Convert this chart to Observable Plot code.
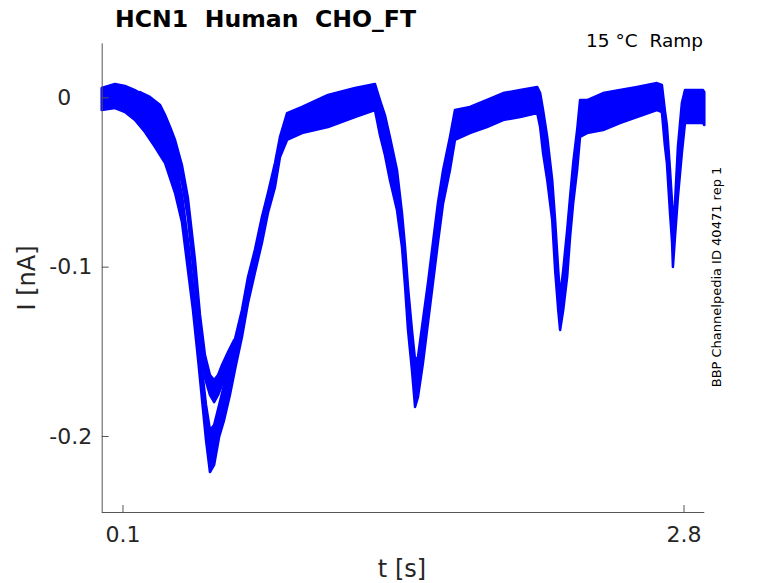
<!DOCTYPE html>
<html><head><meta charset="utf-8">
<script src="https://cdn.jsdelivr.net/npm/d3@7"></script>
<script src="https://cdn.jsdelivr.net/npm/@observablehq/plot@0.6"></script>
<style>
body{margin:0;background:#fff;}
#chart svg{font-family:"DejaVu Sans",sans-serif;}
</style>
</head><body><div id="chart"></div>
<script>
// Main band (overlapping sweeps): time [s], upper and lower envelope [nA]
const tA = [0, 0.064, 0.112, 0.160, 0.208, 0.256, 0.305, 0.353, 0.386, 0.415, 0.439, 0.464, 0.483, 0.502, 0.521, 0.541, 0.565, 0.589, 0.617, 0.646, 0.675, 0.704, 0.737, 0.771, 0.800, 0.834, 0.858, 0.892, 0.964, 1.089, 1.219, 1.315, 1.339, 1.363, 1.387, 1.421, 1.445, 1.460, 1.474, 1.493, 1.508, 1.522, 1.546, 1.570, 1.594, 1.618, 1.643, 1.676, 1.700, 1.772, 1.854, 1.932, 2.014, 2.096, 2.110, 2.124, 2.144, 2.168, 2.182, 2.197, 2.206, 2.221, 2.240, 2.254, 2.269, 2.288, 2.302, 2.336, 2.413, 2.494, 2.576, 2.672, 2.696, 2.710, 2.720, 2.735, 2.745, 2.749, 2.759, 2.773, 2.792, 2.807, 2.894, 2.900];
const hiA = [0.0055, 0.0079, 0.0067, 0.0043, 0.0008, -0.0045, -0.0181, -0.0370, -0.0577, -0.0843, -0.1108, -0.1404, -0.1610, -0.1817, -0.1965, -0.1935, -0.1817, -0.1699, -0.1551, -0.1404, -0.1256, -0.1061, -0.0902, -0.0707, -0.0565, -0.0388, -0.0234, -0.0093, -0.0057, 0.0014, 0.0055, 0.0079, -0.0016, -0.0105, -0.0234, -0.0429, -0.0683, -0.0884, -0.1120, -0.1374, -0.1551, -0.1534, -0.1315, -0.1097, -0.0860, -0.0625, -0.0429, -0.0234, -0.0075, -0.0057, -0.0016, 0.0025, 0.0043, 0.0061, 0.0025, -0.0075, -0.0234, -0.0488, -0.0725, -0.1020, -0.1179, -0.1020, -0.0784, -0.0589, -0.0388, -0.0193, -0.0016, -0.0016, 0.0025, 0.0043, 0.0061, 0.0084, 0.0073, -0.0075, -0.0164, -0.0429, -0.0625, -0.0784, -0.0625, -0.0293, -0.0034, 0.0043, 0.0043, 0.0031];
const loA = [-0.0075, -0.0063, -0.0087, -0.0134, -0.0205, -0.0293, -0.0388, -0.0565, -0.0736, -0.1020, -0.1256, -0.1551, -0.1788, -0.2024, -0.2213, -0.2171, -0.2006, -0.1906, -0.1758, -0.1581, -0.1416, -0.1215, -0.1037, -0.0860, -0.0683, -0.0530, -0.0353, -0.0252, -0.0211, -0.0176, -0.0116, -0.0075, -0.0222, -0.0341, -0.0488, -0.0666, -0.0884, -0.1120, -0.1374, -0.1610, -0.1829, -0.1770, -0.1569, -0.1333, -0.1097, -0.0860, -0.0625, -0.0429, -0.0252, -0.0211, -0.0176, -0.0134, -0.0116, -0.0093, -0.0176, -0.0329, -0.0488, -0.0725, -0.1020, -0.1256, -0.1374, -0.1256, -0.1061, -0.0825, -0.0625, -0.0429, -0.0234, -0.0211, -0.0193, -0.0152, -0.0116, -0.0075, -0.0087, -0.0282, -0.0388, -0.0683, -0.0860, -0.1002, -0.0825, -0.0589, -0.0329, -0.0152, -0.0152, -0.0164];

// Late sweep that separates during the first dip
const tB = [0.184, 0.232, 0.281, 0.305, 0.329, 0.353, 0.386, 0.415, 0.449, 0.473, 0.497, 0.521, 0.541, 0.560, 0.579, 0.608, 0.637];
const hiB = [0.0031, 0.0002, -0.0045, -0.0105, -0.0175, -0.0252, -0.0400, -0.0595, -0.0961, -0.1285, -0.1522, -0.1640, -0.1670, -0.1640, -0.1581, -0.1504, -0.1433];
const loB = [-0.0122, -0.0164, -0.0222, -0.0252, -0.0311, -0.0388, -0.0500, -0.0713, -0.1108, -0.1421, -0.1658, -0.1758, -0.1800, -0.1758, -0.1699, -0.1622, -0.1551];

const xTicks = [0.1, 2.8];
const xTickLabels = ["0.1", "2.8"];
const yTicks = [-0.2, -0.1, 0];
const yTickLabels = ["-0.2", "-0.1", "0\u00a0\u00a0\u00a0"];
const xDomain = [0, 2.9];
const yDomain = [-0.2449, 0.0319];
const titleText = "HCN1\u00a0\u00a0Human\u00a0\u00a0CHO_FT";
const cornerText = "15 °C\u00a0\u00a0Ramp";
const sideText = "BBP Channelpedia ID 40471 rep 1";
const xLabel = "t [s]";
const yLabel = "I [nA]";

const W = 778, H = 583, mL = 101.7, mR = 73.7, mT = 43.3, mB = 71;
const plotW = W - mL - mR, plotH = H - mT - mB;
const axisColor = "#555";
const textColor = "#262626";
const traceColor = "#0000ff";

const A = tA.map((t, i) => ({t, hi: hiA[i], lo: loA[i]}));
const B = tB.map((t, i) => ({t, hi: hiB[i], lo: loB[i]}));

const chart = Plot.plot({
  width: W, height: H,
  marginLeft: mL, marginRight: mR, marginTop: mT, marginBottom: mB,
  style: {fontFamily: "DejaVu Sans", background: "#fff", overflow: "visible"},
  x: {domain: xDomain},
  y: {domain: yDomain},
  marks: [
    Plot.areaY(A, {x: "t", y1: "lo", y2: "hi", fill: traceColor, stroke: traceColor, strokeWidth: 2.5, strokeLinejoin: "round"}),
    Plot.areaY(B, {x: "t", y1: "lo", y2: "hi", fill: traceColor, stroke: traceColor, strokeWidth: 2.5, strokeLinejoin: "round"}),
    Plot.ruleX([xDomain[0]], {stroke: axisColor}),
    Plot.ruleY([yDomain[0]], {stroke: axisColor}),
    Plot.tickY(yTicks, {y: d => d, stroke: axisColor, insetRight: plotW - 7}),
    Plot.tickX(xTicks, {x: d => d, stroke: axisColor, insetTop: plotH - 7}),
    Plot.axisY(yTicks, {tickSize: 0, tickPadding: 10, tickFormat: d => yTickLabels[yTicks.indexOf(d)], fontSize: 22, fill: textColor, label: null}),
    Plot.axisX(xTicks, {tickSize: 0, tickPadding: 14, tickFormat: d => xTickLabels[xTicks.indexOf(d)], fontSize: 22, fill: textColor, label: null})
  ]
});

const svg = d3.select(chart);
svg.append("text").attr("x", 115).attr("y", 26.7).attr("text-anchor", "start")
  .attr("font-size", 23.6).attr("font-weight", "bold").attr("fill", "#000")
  .text(titleText);
svg.append("text").attr("x", 703).attr("y", 47).attr("text-anchor", "end")
  .attr("font-size", 18.5).attr("fill", "#000")
  .text(cornerText);
svg.append("text").attr("transform", "translate(35,278) rotate(-90)").attr("text-anchor", "middle")
  .attr("font-size", 24).attr("fill", textColor).text(yLabel);
svg.append("text").attr("x", 402).attr("y", 577).attr("text-anchor", "middle")
  .attr("font-size", 24).attr("fill", textColor).text(xLabel);
svg.append("text").attr("transform", "translate(721,277) rotate(-90)").attr("text-anchor", "middle")
  .attr("font-size", 13).attr("fill", "#000").text(sideText);

document.getElementById("chart").appendChild(chart);
</script>
</body></html>
